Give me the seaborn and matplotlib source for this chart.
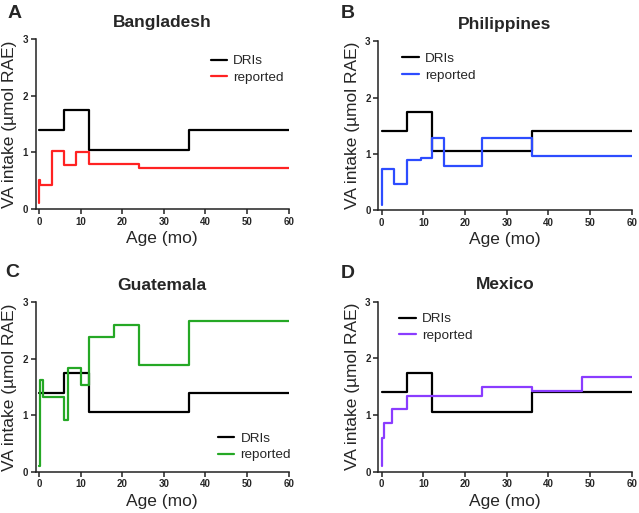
import matplotlib
matplotlib.use("Agg")
import matplotlib.pyplot as plt
import seaborn as sns
import pandas as pd

sns.set_theme(style="ticks")
plt.rcParams['font.family'] = ['Liberation Sans', 'DejaVu Sans']

# DRI reference (same in every panel)
dri_age = [0, 6, 12, 36, 60]
dri_val = [1.40, 1.75, 1.05, 1.40, 1.40]

# Reported intakes
bgd_age = [0, 0.05, 0.3, 3, 6, 9, 12, 24, 60]
bgd_val = [0.10, 0.52, 0.43, 1.03, 0.78, 1.01, 0.79, 0.73, 0.73]

phl_age = [0, 0.2, 3, 6, 9.5, 12, 15, 24, 36, 60]
phl_val = [0.10, 0.73, 0.46, 0.90, 0.92, 1.28, 0.79, 1.28, 0.97, 0.97]

gtm_age = [0, 0.3, 1, 6, 7, 10, 12, 18, 24, 36, 60]
gtm_val = [0.10, 1.63, 1.32, 0.92, 1.84, 1.53, 2.39, 2.59, 1.89, 2.67, 2.67]

mex_age = [0, 0.1, 0.5, 2.5, 6, 24, 36, 48, 60]
mex_val = [0.10, 0.60, 0.86, 1.10, 1.34, 1.50, 1.42, 1.68, 1.68]

countries = ["Bangladesh", "Philippines", "Guatemala", "Mexico"]
letters = ["A", "B", "C", "D"]
colors = ["#FF2222", "#2D4CFF", "#25A825", "#8A3CFF"]
ages = [bgd_age, phl_age, gtm_age, mex_age]
vals = [bgd_val, phl_val, gtm_val, mex_val]

W, H = 639, 513
fig = plt.figure(figsize=(W / 100, H / 100), dpi=100)

# axes boxes in pixels: (left, right, top, bottom)
boxes = [(35.7, 288.7, 39.3, 209.0),
         (378.3, 631.7, 41.3, 210.3),
         (35.7, 288.7, 302.3, 471.7),
         (378.3, 631.7, 301.7, 471.7)]
legend_locs = [("upper left", (0.672, 0.94)),
               ("upper left", (0.074, 0.965)),
               ("lower left", (0.70, 0.03)),
               ("upper left", (0.062, 0.965))]
letter_pos = [(8, 5), (341, 5), (5, 264), (341, 265)]

for i in range(4):
    l, r, t, b = boxes[i]
    ax = fig.add_axes([l / W, 1 - b / H, (r - l) / W, (b - t) / H])
    dri = pd.DataFrame({"age": dri_age, "val": dri_val})
    rep = pd.DataFrame({"age": ages[i], "val": vals[i]})
    sns.lineplot(data=dri, x="age", y="val", ax=ax, color="black", lw=1.6,
                 drawstyle="steps-post", estimator=None, sort=False, label="DRIs")
    sns.lineplot(data=rep, x="age", y="val", ax=ax, color=colors[i], lw=1.6,
                 drawstyle="steps-post", estimator=None, sort=False, label="reported")
    ax.set_xlim(-0.8, 60)
    ax.set_ylim(0, 3)
    ax.set_xticks([0, 10, 20, 30, 40, 50, 60])
    ax.set_yticks([0, 1, 2, 3])
    for s in ["top", "right"]:
        ax.spines[s].set_visible(False)
    for s in ["left", "bottom"]:
        ax.spines[s].set_linewidth(1.1)
        ax.spines[s].set_color("#222222")
    ax.tick_params(direction="out", length=3.5, width=1.1, color="#222222",
                   labelsize=7, pad=2)
    for lab in ax.get_xticklabels() + ax.get_yticklabels():
        lab.set_fontweight("bold")
    ax.set_xlabel("Age (mo)", fontsize=12.5, labelpad=3)
    ax.set_ylabel("VA intake (µmol RAE)", fontsize=12.5, labelpad=4)
    ax.set_title(countries[i], fontsize=12.5, fontweight="bold", pad=9)
    loc, anchor = legend_locs[i]
    ax.legend(loc=loc, bbox_to_anchor=anchor, frameon=False, fontsize=9.7,
              handlelength=1.2, handletextpad=0.45, labelspacing=0.3,
              borderaxespad=0)
    lx, ly = letter_pos[i]
    fig.text(lx / W, 1 - ly / H, letters[i], fontsize=14, fontweight="bold",
             va="top", ha="left")

fig.savefig("out.png", dpi=100)
